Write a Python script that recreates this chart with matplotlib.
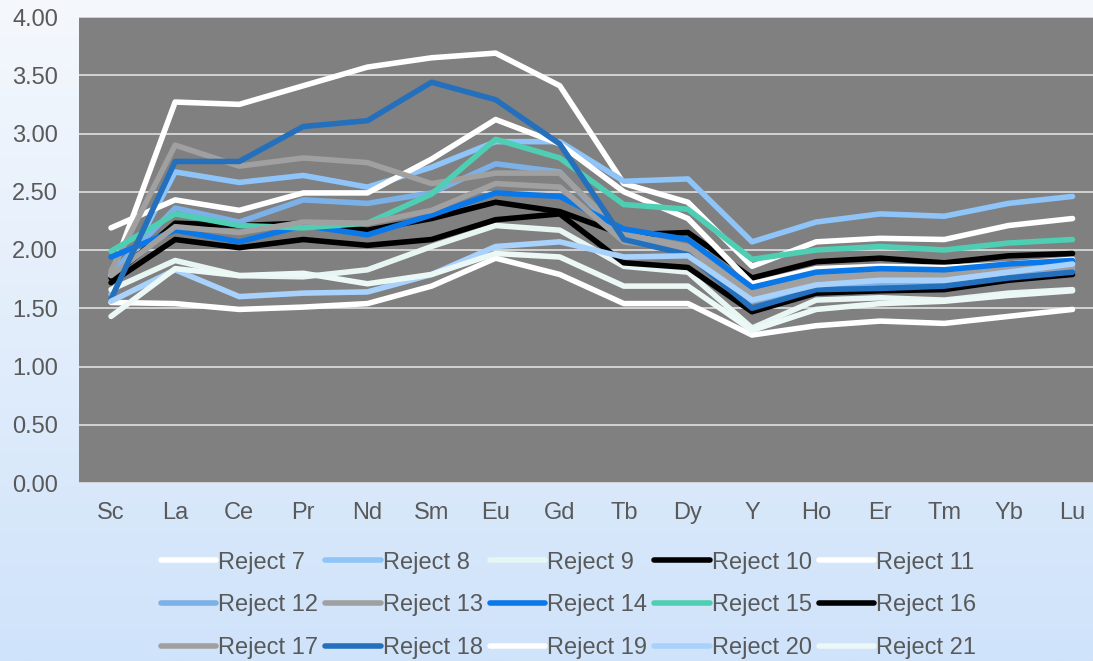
import numpy as np
import matplotlib
matplotlib.use("Agg")
import matplotlib.pyplot as plt

plt.rcParams['font.family'] = ['Liberation Sans', 'DejaVu Sans']

elements = ["Sc", "La", "Ce", "Pr", "Nd", "Sm", "Eu", "Gd", "Tb", "Dy",
            "Y", "Ho", "Er", "Tm", "Yb", "Lu"]

reject_7 = [1.78, 3.27, 3.25, 3.41, 3.57, 3.65, 3.69, 3.41, 2.57, 2.41, 1.86, 2.07, 2.10, 2.09, 2.21, 2.27]
reject_8 = [1.62, 2.67, 2.58, 2.64, 2.54, 2.71, 2.93, 2.93, 2.59, 2.61, 2.07, 2.24, 2.31, 2.29, 2.40, 2.46]
reject_9 = [1.66, 1.91, 1.78, 1.77, 1.83, 2.03, 2.21, 2.17, 1.86, 1.81, 1.33, 1.57, 1.59, 1.57, 1.63, 1.66]
reject_10 = [1.76, 2.23, 2.21, 2.23, 2.17, 2.27, 2.41, 2.33, 2.13, 2.15, 1.76, 1.90, 1.93, 1.89, 1.95, 1.97]
reject_11 = [2.19, 2.43, 2.34, 2.49, 2.49, 2.78, 3.12, 2.91, 2.50, 2.27, 1.71, 1.84, 1.86, 1.85, 1.88, 1.92]
reject_12 = [1.80, 2.36, 2.24, 2.43, 2.40, 2.49, 2.74, 2.67, 2.10, 1.98, 1.56, 1.68, 1.72, 1.72, 1.78, 1.83]
reject_13 = [1.82, 2.90, 2.72, 2.79, 2.75, 2.57, 2.66, 2.66, 2.14, 2.03, 1.63, 1.77, 1.80, 1.79, 1.84, 1.88]
reject_14 = [1.94, 2.17, 2.07, 2.21, 2.13, 2.30, 2.49, 2.46, 2.18, 2.09, 1.68, 1.81, 1.84, 1.83, 1.88, 1.91]
reject_15 = [1.99, 2.31, 2.21, 2.19, 2.23, 2.48, 2.95, 2.79, 2.39, 2.35, 1.92, 2.00, 2.03, 2.00, 2.06, 2.09]
reject_16 = [1.72, 2.09, 2.02, 2.09, 2.04, 2.09, 2.26, 2.31, 1.89, 1.85, 1.47, 1.63, 1.65, 1.66, 1.74, 1.79]
reject_17 = [1.78, 2.20, 2.15, 2.24, 2.23, 2.34, 2.57, 2.54, 2.07, 2.00, 1.60, 1.74, 1.77, 1.76, 1.82, 1.86]
reject_18 = [1.58, 2.76, 2.76, 3.06, 3.11, 3.44, 3.29, 2.91, 2.09, 1.96, 1.50, 1.66, 1.67, 1.69, 1.76, 1.81]
reject_19 = [1.55, 1.54, 1.49, 1.51, 1.54, 1.69, 1.93, 1.79, 1.54, 1.54, 1.27, 1.35, 1.39, 1.37, 1.43, 1.49]
reject_20 = [1.56, 1.83, 1.60, 1.63, 1.64, 1.79, 2.03, 2.07, 1.94, 1.95, 1.57, 1.70, 1.74, 1.74, 1.81, 1.88]
reject_21 = [1.43, 1.84, 1.78, 1.80, 1.71, 1.79, 1.97, 1.94, 1.69, 1.69, 1.31, 1.49, 1.54, 1.56, 1.61, 1.65]

names = ["Reject %d" % i for i in range(7, 22)]
series = [reject_7, reject_8, reject_9, reject_10, reject_11, reject_12, reject_13,
          reject_14, reject_15, reject_16, reject_17, reject_18, reject_19,
          reject_20, reject_21]
colors = ["#ffffff", "#8ec4f8", "#e8f6f3", "#000000", "#ffffff",
          "#7bb1e6", "#a0a0a0", "#0a78e8", "#4ecfb3", "#000000",
          "#a0a0a0", "#2570bd", "#ffffff", "#a8d2fc", "#ecf8f6"]

fig = plt.figure(figsize=(10.93, 6.61), dpi=100)

# gradient background
bg = fig.add_axes([0, 0, 1, 1], zorder=-10)
top = np.array([245, 248, 253]) / 255.0
bottom = np.array([207, 227, 250]) / 255.0
t = np.linspace(0, 1, 256)[:, None]
grad = top[None, :] * (1 - t) + bottom[None, :] * t
bg.imshow(grad[:, None, :], aspect='auto', extent=[0, 1, 0, 1])
bg.axis('off')

ax = fig.add_axes([79 / 1093, 178 / 661, 1025.6 / 1093, 466 / 661])
ax.set_facecolor('#808080')

x = np.arange(len(elements))
lines = []
for name, vals, c in zip(names, series, colors):
    ln, = ax.plot(x, vals, color=c, lw=4, label=name,
                  solid_capstyle='round', solid_joinstyle='round')
    lines.append(ln)

ax.set_xlim(-0.5, len(elements) - 0.5)
ax.set_ylim(0, 4)
ax.set_yticks(np.arange(0, 4.01, 0.5))
ax.set_yticklabels(["%.2f" % v for v in np.arange(0, 4.01, 0.5)])
ax.set_xticks(x)
ax.set_xticklabels(elements)
ax.yaxis.grid(True, color='#d9d9d9', lw=1.3)
ax.set_axisbelow(True)
for s in ax.spines.values():
    s.set_visible(False)
ax.tick_params(axis='x', length=0, pad=14, labelsize=17, labelcolor='#595959')
ax.tick_params(axis='y', length=0, pad=15, labelsize=17, labelcolor='#595959')

# legend filled row by row like the original
order = []
for col in range(5):
    for row in range(3):
        order.append(row * 5 + col)
leg = fig.legend([lines[i] for i in order], [names[i] for i in order],
                 ncol=5, loc='center', bbox_to_anchor=(0.520, 0.084),
                 frameon=False, fontsize=17, handlelength=2.35,
                 handletextpad=0.08, columnspacing=0.3, labelspacing=0.88,
                 borderpad=0)
for txt in leg.get_texts():
    txt.set_color('#595959')

fig.savefig("out.png", dpi=100)
